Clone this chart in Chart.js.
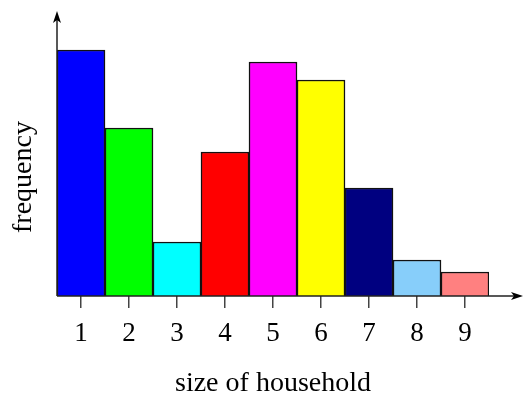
<!DOCTYPE html>
<html>
<head>
<meta charset="utf-8">
<script src="https://cdn.jsdelivr.net/npm/chart.js@4"></script>
<style>
  html, body { margin: 0; padding: 0; background: #fff; }
  canvas { display: block; }
</style>
</head>
<body>
<canvas id="myChart" width="525" height="394"></canvas>
<script>
const householdSizes = ["1", "2", "3", "4", "5", "6", "7", "8", "9"];
const frequencies = [41, 28, 9, 24, 39, 36, 18, 6, 4];
const barColors = [
  "#0000ff", "#00ff00", "#00ffff", "#ff0000", "#ff00ff",
  "#ffff00", "#000080", "#87cefa", "#ff8080",
];
const yMax = 46;

const serif = "'Liberation Serif', 'DejaVu Serif', serif";

// draws the two axis lines with arrow heads plus the rotated y title
const axesPlugin = {
  id: "axes",
  afterDatasetsDraw(chart) {
    const ctx = chart.ctx;
    const a = chart.chartArea;
    const x0 = a.left, y0 = a.bottom;
    const xEnd = 523, yEnd = 11;

    ctx.save();
    ctx.strokeStyle = "#222";
    ctx.lineWidth = 1.5;
    ctx.beginPath();
    ctx.moveTo(x0, y0);
    ctx.lineTo(xEnd - 4, y0);
    ctx.moveTo(x0, y0);
    ctx.lineTo(x0, yEnd + 4);
    ctx.stroke();

    ctx.fillStyle = "#000";
    // y arrow
    ctx.beginPath();
    ctx.moveTo(x0, yEnd);
    ctx.lineTo(x0 + 4, yEnd + 12);
    ctx.lineTo(x0, yEnd + 9);
    ctx.lineTo(x0 - 4, yEnd + 12);
    ctx.closePath();
    ctx.fill();
    // x arrow
    ctx.beginPath();
    ctx.moveTo(xEnd, y0);
    ctx.lineTo(xEnd - 12, y0 - 4);
    ctx.lineTo(xEnd - 9, y0);
    ctx.lineTo(xEnd - 12, y0 + 4);
    ctx.closePath();
    ctx.fill();

    // y title
    ctx.translate(24, 177);
    ctx.rotate(-Math.PI / 2);
    ctx.font = "28px " + serif;
    ctx.textAlign = "center";
    ctx.textBaseline = "middle";
    ctx.fillText("frequency", 0, 0);
    ctx.restore();
  },
};

const ctx = document.getElementById("myChart");
new Chart(ctx, {
  type: "bar",
  data: {
    labels: householdSizes,
    datasets: [
      {
        label: "frequency",
        data: frequencies,
        backgroundColor: barColors,
        borderColor: "#111",
        borderWidth: 1.5,
        categoryPercentage: 1,
        barPercentage: 1,
      },
    ],
  },
  options: {
    responsive: false,
    animation: false,
    layout: { padding: { top: 20, right: 36, left: 0, bottom: 0 } },
    plugins: {
      legend: { display: false },
      tooltip: { enabled: false },
    },
    scales: {
      x: {
        grid: {
          display: true,
          drawOnChartArea: false,
          drawTicks: true,
          tickLength: 12,
          offset: false,
          color: "#444",
          lineWidth: 1.5,
        },
        border: { display: false },
        ticks: {
          color: "#000",
          font: { family: serif, size: 27 },
          padding: 10,
          maxRotation: 0,
        },
        title: {
          display: true,
          text: "size of household",
          color: "#000",
          font: { family: serif, size: 28 },
          padding: { top: 0, bottom: -6 },
        },
        afterFit(scale) {
          scale.height = 98;
        },
      },
      y: {
        min: 0,
        max: yMax,
        grid: { display: false },
        border: { display: false },
        ticks: { display: false },
        afterFit(scale) {
          scale.width = 57;
        },
      },
    },
  },
  plugins: [axesPlugin],
});
</script>
</body>
</html>
